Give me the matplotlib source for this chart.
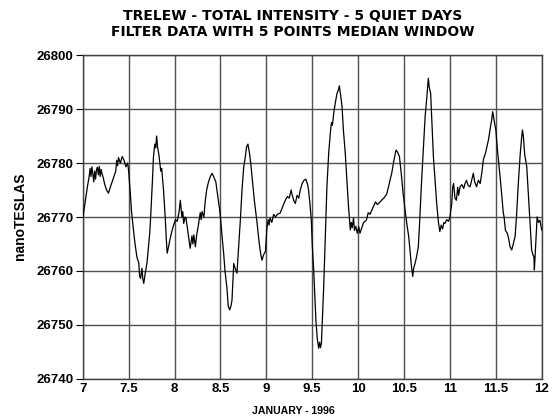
import matplotlib
matplotlib.use('Agg')
from matplotlib import pyplot as plt

# day of January 1996 -> total intensity (nT)
days = [
    7.00, 7.02, 7.05, 7.07, 7.08, 7.09, 7.10, 7.11, 7.12, 7.13, 7.14, 7.15, 7.16, 7.17, 7.18, 7.19,
    7.20, 7.21, 7.22, 7.24, 7.26, 7.28, 7.30, 7.32, 7.34, 7.36, 7.37, 7.38, 7.39, 7.41, 7.43, 7.45,
    7.47, 7.49, 7.50, 7.52, 7.53, 7.55, 7.57, 7.59, 7.61, 7.62, 7.63, 7.645, 7.655, 7.665, 7.68, 7.70,
    7.71, 7.73, 7.74, 7.76, 7.77, 7.785, 7.795, 7.805, 7.815, 7.83, 7.84, 7.85, 7.86, 7.88, 7.90, 7.91,
    7.92, 7.935, 7.95, 7.97, 7.99, 8.01, 8.03, 8.05, 8.063, 8.08, 8.09, 8.10, 8.115, 8.125, 8.14, 8.16,
    8.17, 8.19, 8.20, 8.21, 8.227, 8.24, 8.26, 8.28, 8.29, 8.30, 8.32, 8.335, 8.35, 8.37, 8.39, 8.41,
    8.43, 8.45, 8.47, 8.49, 8.50, 8.52, 8.535, 8.55, 8.57, 8.585, 8.60, 8.615, 8.626, 8.635, 8.645, 8.66,
    8.68, 8.70, 8.717, 8.735, 8.754, 8.77, 8.785, 8.80, 8.815, 8.83, 8.844, 8.87, 8.90, 8.92, 8.94, 8.953,
    8.97, 8.99, 9.007, 9.02, 9.03, 9.04, 9.06, 9.08, 9.10, 9.12, 9.15, 9.18, 9.21, 9.23, 9.25, 9.27,
    9.28, 9.30, 9.316, 9.335, 9.353, 9.37, 9.39, 9.41, 9.43, 9.45, 9.46, 9.475, 9.49, 9.50, 9.516, 9.53,
    9.54, 9.555, 9.57, 9.58, 9.59, 9.60, 9.61, 9.625, 9.64, 9.66, 9.68, 9.70, 9.71, 9.72, 9.734, 9.75,
    9.77, 9.785, 9.795, 9.81, 9.825, 9.84, 9.86, 9.88, 9.895, 9.904, 9.915, 9.925, 9.935, 9.95, 9.96, 9.975,
    9.99, 10.007, 10.02, 10.04, 10.06, 10.09, 10.11, 10.13, 10.165, 10.19, 10.21, 10.24, 10.26, 10.28, 10.31, 10.33,
    10.35, 10.366, 10.39, 10.413, 10.43, 10.45, 10.47, 10.49, 10.51, 10.53, 10.55, 10.565, 10.58, 10.595, 10.605, 10.62,
    10.635, 10.656, 10.67, 10.69, 10.71, 10.73, 10.75, 10.765, 10.775, 10.79, 10.805, 10.82, 10.84, 10.856, 10.875, 10.89,
    10.905, 10.92, 10.935, 10.946, 10.965, 10.985, 11.00, 11.02, 11.03, 11.04, 11.055, 11.07, 11.085, 11.095, 11.11, 11.13,
    11.15, 11.165, 11.18, 11.20, 11.22, 11.24, 11.255, 11.27, 11.29, 11.31, 11.33, 11.35, 11.364, 11.39, 11.42, 11.44,
    11.455, 11.466, 11.48, 11.50, 11.52, 11.546, 11.565, 11.58, 11.59, 11.605, 11.625, 11.64, 11.655, 11.673, 11.69, 11.71,
    11.725, 11.745, 11.765, 11.78, 11.79, 11.80, 11.815, 11.837, 11.85, 11.865, 11.88, 11.89, 11.905, 11.915, 11.92, 11.93,
    11.94, 11.95, 11.965, 11.98, 12.00,
]
intensity = [
    26769.8, 26772.0, 26775.5, 26777.5, 26779.0, 26777.5, 26779.3, 26778.0, 26776.5, 26778.5, 26777.0, 26778.8, 26779.2, 26777.8, 26779.4, 26777.5,
    26778.8, 26778.0, 26777.5, 26776.0, 26775.0, 26774.4, 26775.5, 26776.5, 26777.5, 26778.5, 26780.5, 26779.5, 26781.0, 26780.0, 26781.2, 26780.5,
    26779.3, 26780.0, 26778.5, 26774.0, 26771.3, 26768.0, 26765.0, 26762.6, 26761.5, 26759.0, 26758.6, 26760.5, 26758.5, 26757.7, 26759.5, 26761.5,
    26763.3, 26767.0, 26770.0, 26777.0, 26781.0, 26783.5, 26782.8, 26785.0, 26783.0, 26781.5, 26780.0, 26778.5, 26779.0, 26775.0, 26769.5, 26766.0,
    26763.3, 26764.5, 26765.8, 26767.3, 26768.5, 26769.5, 26769.2, 26771.0, 26773.1, 26770.0, 26771.0, 26768.8, 26770.0, 26769.8, 26768.0, 26765.5,
    26764.2, 26766.5, 26765.0, 26766.7, 26764.5, 26766.5, 26768.5, 26770.8, 26769.5, 26771.0, 26770.0, 26773.0, 26775.0, 26776.5, 26777.5, 26778.1,
    26777.3, 26776.5, 26774.0, 26771.5, 26770.0, 26766.0, 26763.3, 26760.0, 26757.0, 26753.5, 26752.8, 26753.5, 26754.6, 26758.0, 26761.4, 26760.5,
    26759.6, 26765.0, 26769.4, 26775.0, 26779.3, 26781.0, 26783.0, 26783.5, 26782.0, 26780.0, 26777.5, 26773.0, 26768.8, 26765.5, 26763.0, 26762.0,
    26763.0, 26763.6, 26768.0, 26769.5, 26768.5, 26769.8, 26769.0, 26770.5, 26770.0, 26770.5, 26770.7, 26772.0, 26773.2, 26773.8, 26773.5, 26775.0,
    26774.2, 26773.0, 26772.5, 26774.0, 26773.5, 26775.0, 26776.2, 26776.8, 26777.0, 26776.0, 26775.0, 26772.5, 26769.4, 26765.0, 26760.2, 26755.0,
    26750.9, 26747.5, 26745.7, 26746.8, 26745.8, 26746.6, 26751.0, 26757.1, 26765.0, 26775.6, 26782.0, 26786.1, 26787.5, 26787.0, 26789.2, 26791.0,
    26792.9, 26793.5, 26794.3, 26792.5, 26790.4, 26786.0, 26781.8, 26776.0, 26772.0, 26770.0, 26767.6, 26769.0, 26768.0, 26769.8, 26767.5, 26768.3,
    26767.0, 26768.2, 26767.0, 26768.0, 26769.0, 26769.4, 26770.8, 26770.5, 26771.9, 26772.8, 26772.3, 26772.8, 26773.2, 26773.5, 26774.2, 26775.5,
    26777.0, 26778.1, 26780.5, 26782.4, 26782.0, 26781.2, 26778.0, 26774.4, 26771.5, 26768.8, 26766.5, 26763.9, 26761.0, 26759.0, 26760.5, 26761.4,
    26762.5, 26764.5, 26769.0, 26776.2, 26782.5, 26788.6, 26792.5, 26795.7, 26794.0, 26792.9, 26787.0, 26781.2, 26776.5, 26772.5, 26769.0, 26767.3,
    26768.5, 26767.8, 26769.0, 26768.8, 26769.5, 26769.2, 26770.0, 26772.5, 26775.5, 26776.2, 26773.5, 26773.1, 26775.5, 26774.0, 26775.6, 26776.0,
    26775.3, 26776.2, 26776.8, 26775.8, 26775.6, 26777.0, 26778.1, 26776.5, 26775.6, 26776.8, 26776.2, 26778.5, 26780.6, 26782.0, 26784.3, 26786.5,
    26788.0, 26789.5, 26788.0, 26786.1, 26782.0, 26777.5, 26774.0, 26771.0, 26770.0, 26767.5, 26767.0, 26766.0, 26764.5, 26763.9, 26765.0, 26766.4,
    26770.0, 26776.2, 26781.5, 26784.5, 26786.1, 26785.0, 26781.5, 26779.3, 26775.5, 26771.3, 26767.0, 26763.9, 26763.0, 26762.6, 26760.2, 26763.5,
    26766.5, 26770.0, 26769.0, 26769.4, 26767.6,
]

x_ticks = [7, 7.5, 8, 8.5, 9, 9.5, 10, 10.5, 11, 11.5, 12]
x_labels = ['7', '7.5', '8', '8.5', '9', '9.5', '10', '10.5', '11', '11.5', '12']
y_ticks = [26740, 26750, 26760, 26770, 26780, 26790, 26800]

title_lines = ['TRELEW - TOTAL INTENSITY - 5 QUIET DAYS',
               'FILTER DATA WITH 5 POINTS MEDIAN WINDOW']

plt.rcParams['font.family'] = ['Liberation Sans', 'DejaVu Sans']
plt.rcParams['font.weight'] = 'bold'

fig = plt.figure(figsize=(5.53, 4.19), dpi=100)
ax = fig.add_axes([0.1496, 0.0955, 0.8300, 0.7732])

ax.plot(days, intensity, color='black', linewidth=0.9, zorder=3)

ax.set_xlim(7, 12)
ax.set_ylim(26740, 26800)
ax.set_xticks(x_ticks)
ax.set_xticklabels(x_labels)
ax.set_yticks(y_ticks)
ax.grid(True, color='#505050', linewidth=1.0)
ax.tick_params(axis='x', length=0, pad=3, labelsize=9.5)
ax.tick_params(axis='y', length=5, width=0.8, pad=1.5, labelsize=9.5)
for sp in ax.spines.values():
    sp.set_color('#404040')
    sp.set_linewidth(1.0)

# axis labels and title placed where the reference has them
fig.text(293 / 553, 1 - 410.5 / 419, 'JANUARY - 1996', fontsize=7.6,
         fontweight='bold', ha='center', va='center')
fig.text(20 / 553, 1 - 216.7 / 419, 'nanoTESLAS', fontsize=10,
         fontweight='bold', ha='center', va='center', rotation=90)
fig.text(292.5 / 553, 1 - 15.5 / 419, title_lines[0], family='DejaVu Sans',
         fontsize=10, fontweight='bold', ha='center', va='center')
fig.text(292.5 / 553, 1 - 31.8 / 419, title_lines[1], family='DejaVu Sans',
         fontsize=10, fontweight='bold', ha='center', va='center')

fig.savefig('out.png', dpi=100)
